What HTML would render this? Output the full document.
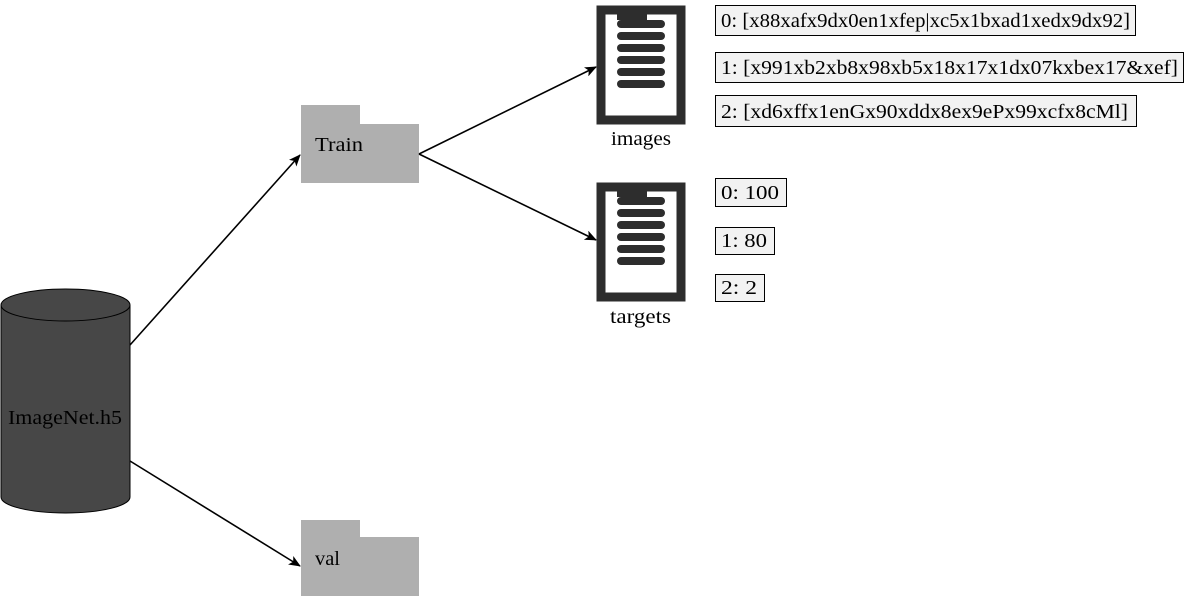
<!DOCTYPE html>
<html><head><meta charset="utf-8"><style>
body{margin:0;width:1185px;height:597px;background:#fff;overflow:hidden}
svg text{font-family:"Liberation Serif",serif;font-size:20px;fill:#000}
</style></head><body>
<svg width="1185" height="597" viewBox="0 0 1185 597">
<defs>
<marker id="a" markerWidth="12" markerHeight="10" refX="11" refY="5" orient="auto" markerUnits="userSpaceOnUse">
<path d="M0,0 L12,5 L0,10 L3,5 Z" fill="#000"/></marker>
<g id="clip">
<rect x="601" y="4" width="80" height="110" fill="none" stroke="#2d2d2d" stroke-width="9"/>
<rect x="617" y="4" width="30" height="10" fill="#2d2d2d"/>
<rect x="617" y="14" width="48" height="8" rx="4" fill="#2d2d2d"/>
<rect x="617" y="26" width="48" height="8" rx="4" fill="#2d2d2d"/>
<rect x="617" y="38" width="48" height="8" rx="4" fill="#2d2d2d"/>
<rect x="617" y="50" width="48" height="8" rx="4" fill="#2d2d2d"/>
<rect x="617" y="62" width="48" height="8" rx="4" fill="#2d2d2d"/>
<rect x="617" y="74" width="48" height="8" rx="4" fill="#2d2d2d"/>
</g>
</defs>
<path d="M1,305 L1,497 A64.5,16 0 0 0 130,497 L130,305" fill="#474747" stroke="#000" stroke-width="1"/>
<ellipse cx="65.5" cy="305" rx="64.5" ry="16" fill="#474747" stroke="#000" stroke-width="1"/>
<text x="8" y="424" textLength="114" lengthAdjust="spacingAndGlyphs">ImageNet.h5</text>
<rect x="301" y="105" width="59" height="20" fill="#afafaf"/>
<rect x="301" y="124" width="118" height="59" fill="#afafaf"/>
<text x="315" y="151" textLength="48" lengthAdjust="spacingAndGlyphs">Train</text>
<rect x="301" y="520" width="59" height="18" fill="#afafaf"/>
<rect x="301" y="537" width="118" height="59" fill="#afafaf"/>
<text x="315" y="565" textLength="25" lengthAdjust="spacingAndGlyphs">val</text>
<g stroke="#000" stroke-width="1.6" fill="none" marker-end="url(#a)">
<line x1="130" y1="345" x2="300" y2="155"/>
<line x1="130" y1="461" x2="300" y2="566"/>
<line x1="419" y1="154" x2="596" y2="67"/>
<line x1="419" y1="154" x2="596" y2="240"/>
</g>
<use href="#clip" y="6"/>
<use href="#clip" y="183"/>
<text x="611" y="145" textLength="60" lengthAdjust="spacingAndGlyphs">images</text>
<text x="610" y="323" textLength="61" lengthAdjust="spacingAndGlyphs">targets</text>
<g fill="#f2f2f2" stroke="#000" stroke-width="1">
<rect x="715.5" y="5.5" width="420" height="30"/>
<rect x="715.5" y="52.5" width="468" height="30"/>
<rect x="715.5" y="95.5" width="421" height="31"/>
<rect x="715.5" y="178.5" width="71" height="28"/>
<rect x="715.5" y="227.5" width="59" height="27"/>
<rect x="715.5" y="274.5" width="49" height="27"/>
</g>
<text x="721" y="27" textLength="409" lengthAdjust="spacingAndGlyphs">0:  [x88xafx9dx0en1xfep|xc5x1bxad1xedx9dx92]</text>
<text x="721" y="74" textLength="457" lengthAdjust="spacingAndGlyphs">1:  [x991xb2xb8x98xb5x18x17x1dx07kxbex17&amp;xef]</text>
<text x="721" y="118" textLength="407" lengthAdjust="spacingAndGlyphs">2:  [xd6xffx1enGx90xddx8ex9ePx99xcfx8cMl]</text>
<text x="721" y="199" textLength="58" lengthAdjust="spacingAndGlyphs">0:  100</text>
<text x="721" y="247" textLength="46" lengthAdjust="spacingAndGlyphs">1:  80</text>
<text x="721" y="294" textLength="36" lengthAdjust="spacingAndGlyphs">2:  2</text>
</svg>
</body></html>
